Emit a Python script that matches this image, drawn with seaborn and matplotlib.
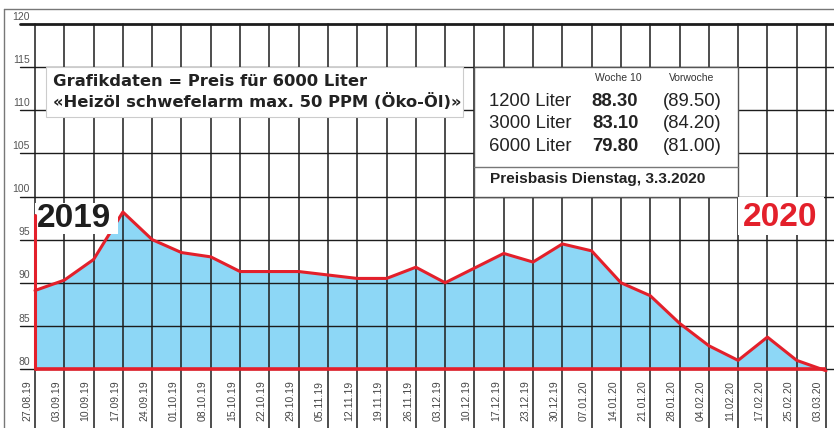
import pandas as pd
import numpy as np
import matplotlib.pyplot as plt
import seaborn as sns
from matplotlib.patches import Rectangle
from matplotlib.lines import Line2D

# Weekly price data (CHF per 100 l, 6000 Liter)
dates = ['27.08.19', '03.09.19', '10.09.19', '17.09.19', '24.09.19', '01.10.19',
         '08.10.19', '15.10.19', '22.10.19', '29.10.19', '05.11.19', '12.11.19',
         '19.11.19', '26.11.19', '03.12.19', '10.12.19', '17.12.19', '23.12.19',
         '30.12.19', '07.01.20', '14.01.20', '21.01.20', '28.01.20', '04.02.20',
         '11.02.20', '17.02.20', '25.02.20', '03.03.20']
prices = [89.1, 90.3, 92.7, 98.2, 95.0, 93.5, 93.0, 91.3, 91.3, 91.3, 90.9, 90.5,
          90.5, 91.8, 90.0, 91.7, 93.4, 92.4, 94.5, 93.7, 90.0, 88.5, 85.3, 82.7,
          81.0, 83.7, 81.0, 79.8]
y_ticks = [80, 85, 90, 95, 100, 105, 110, 115, 120]

table_sizes = ['1200 Liter', '3000 Liter', '6000 Liter']
table_now = ['88.30', '83.10', '79.80']
table_prev = ['(89.50)', '(84.20)', '(81.00)']

df = pd.DataFrame({'idx': np.arange(len(dates)), 'date': dates, 'price': prices})

sns.set_style('white')
plt.rcParams['font.family'] = ['Liberation Sans', 'DejaVu Sans']

RED = '#e3202b'
BLUE = '#8dd7f6'
GRID = '#1c1c1c'

W, H = 834, 428
fig = plt.figure(figsize=(W / 100, H / 100), dpi=100)
ax = fig.add_axes([35 / W, (H - 369) / H, (826 - 35) / W, (369 - 24) / H])
ax.set_xlim(0, len(dates) - 1)
ax.set_ylim(80, 120)
ax.axis('off')

# fill under the curve
ax.fill_between(df['idx'], 80, df['price'], color=BLUE, lw=0, zorder=1)

# grid
x_left, x_right = -0.51, 27.27
for y in y_ticks:
    lw = 2.0 if y == 120 else 1.0
    ax.plot([x_left, x_right], [y, y], color=GRID, lw=lw, zorder=2, clip_on=False)
    ax.text(-0.17, y + 0.85, str(y), ha='right', va='center', fontsize=7.5,
            color='#555555', zorder=6)
for i in df['idx']:
    ax.plot([i, i], [73.0, 120], color=GRID, lw=1.1, zorder=2, clip_on=False)
    ax.text(i - 0.27, 76.3, dates[i], rotation=90, ha='center', va='center',
            fontsize=7.5, color='#444444', clip_on=False)

# red price line
sns.lineplot(data=df, x='idx', y='price', color=RED, lw=2.2, ax=ax, zorder=3,
             clip_on=False)
ax.plot([0, len(dates) - 1], [80, 80], color=RED, lw=2.6, zorder=3,
        solid_capstyle='butt', clip_on=False)
ax.plot([0, 0], [80, 97.9], color=RED, lw=2.2, zorder=7, clip_on=False)

# text box left
ax.add_patch(Rectangle((0.375, 109.2), 14.23, 5.8, facecolor='white',
                       edgecolor='#cccccc', lw=0.8, zorder=4, clip_on=False))
ax.text(0.6, 113.35, 'Grafikdaten = Preis für 6000 Liter', fontsize=11.8,
        fontweight='bold', color='#222222', va='center', family='DejaVu Sans',
        zorder=5)
ax.text(0.6, 111.0, '«Heizöl schwefelarm max. 50 PPM (Öko-Öl)»', fontsize=11.8,
        fontweight='bold', color='#222222', va='center', family='DejaVu Sans',
        zorder=5)

# table box
ax.add_patch(Rectangle((15, 100), 9, 15, facecolor='white', edgecolor='#555555',
                       lw=1.0, zorder=4, clip_on=False))
ax.plot([15, 24], [103.42, 103.42], color='#777777', lw=1.0, zorder=5)
ax.text(19.9, 113.74, 'Woche 10', ha='center', va='center', fontsize=7.5,
        color='#333333', zorder=5)
ax.text(22.4, 113.74, 'Vorwoche', ha='center', va='center', fontsize=7.5,
        color='#333333', zorder=5)
for k, yy in enumerate([111.07, 108.52, 105.74]):
    ax.text(15.5, yy, table_sizes[k], va='center', fontsize=13.3, color='#222222',
            zorder=5)
    ax.text(19.8, yy, table_now[k], ha='center', va='center', fontsize=13.3,
            fontweight='bold', color='#222222', zorder=5)
    ax.text(22.42, yy, table_prev[k], ha='center', va='center', fontsize=13.3,
            color='#222222', zorder=5)
ax.text(15.53, 102.03, 'Preisbasis Dienstag, 3.3.2020', va='center', fontsize=11.1,
        fontweight='bold', color='#222222', zorder=5)

# year labels
ax.add_patch(Rectangle((0, 95.7), 2.83, 3.5, facecolor='white', lw=0, zorder=4,
                       clip_on=False))
ax.text(0.07, 97.4, '2019', fontsize=24, fontweight='bold', color='#1e1e1e',
        va='center', zorder=5)
ax.add_patch(Rectangle((24.0, 95.5), 2.93, 4.5, facecolor='white', lw=0, zorder=4,
                       clip_on=False))
ax.text(25.45, 97.6, '2020', fontsize=24, fontweight='bold', color=RED,
        ha='center', va='center', zorder=5)

# outer frame
fig.add_artist(Line2D([4 / W, 4 / W], [0, (H - 9) / H], color='#777777', lw=1))
fig.add_artist(Line2D([4 / W, 1], [(H - 9) / H, (H - 9) / H], color='#777777', lw=1))

fig.savefig('out.png', dpi=100, facecolor='white')
